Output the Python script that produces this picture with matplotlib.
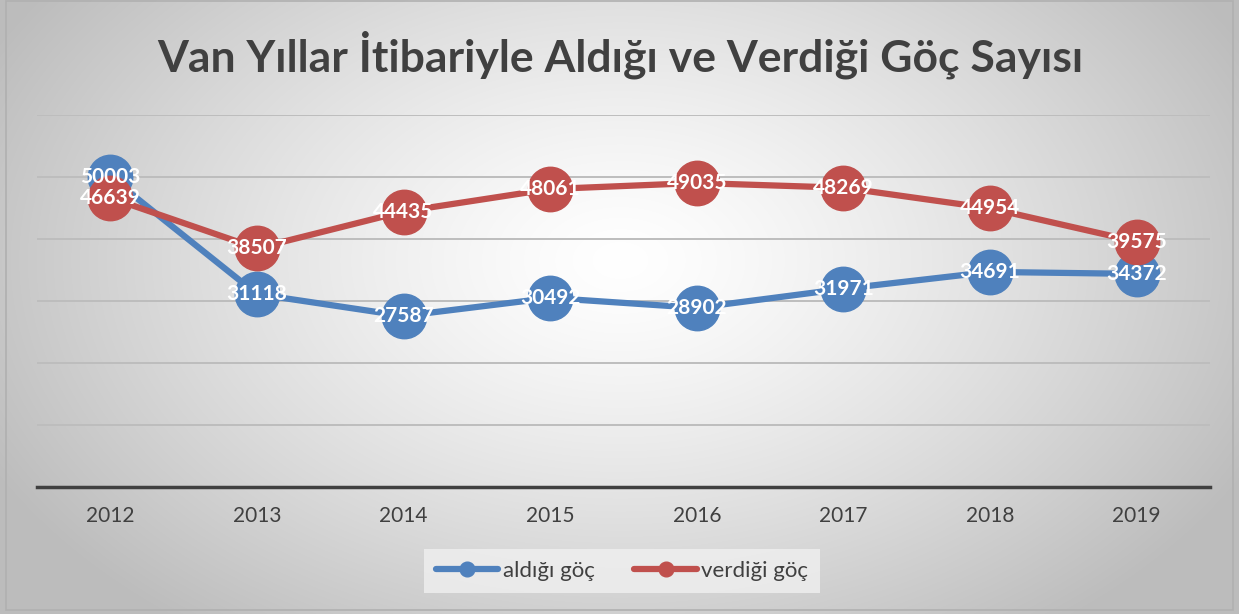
import numpy as np
import matplotlib.pyplot as plt
from matplotlib.patches import Rectangle

years = ['2012', '2013', '2014', '2015', '2016', '2017', '2018', '2019']
aldigi = [50003, 31118, 27587, 30492, 28902, 31971, 34691, 34372]
verdigi = [46639, 38507, 44435, 48061, 49035, 48269, 44954, 39575]

plt.rcParams['font.family'] = ['Lato', 'DejaVu Sans']

W, H = 1239, 614
fig = plt.figure(figsize=(W / 100, H / 100), dpi=100)

# arka plan: radyal gradyan
bg = fig.add_axes([0, 0, 1, 1])
yy, xx = np.mgrid[0:H, 0:W]
r = np.sqrt(((xx - 620) / 640.0) ** 2 + ((yy - 260) / 420.0) ** 2)
r = np.clip(r / 1.1, 0, 1)
g = 1.0 - 0.26 * r ** 1.3
img = np.dstack([g, g, g])
bg.imshow(img, extent=[0, W, H, 0], aspect='auto')
bg.add_patch(Rectangle((6, 1), W - 12, H - 5, fill=False, edgecolor='#b0b0b0', lw=1.2))
bg.set_xlim(0, W)
bg.set_ylim(H, 0)
bg.axis('off')

ax = fig.add_axes([37 / W, (H - 487) / H, (1210 - 37) / W, (487 - 115) / H])
ax.patch.set_alpha(0)
x = np.arange(len(years))

ax.plot(x, aldigi, color='#4F81BD', lw=4.5, marker='o', ms=32, zorder=3,
        solid_capstyle='round', label='aldığı göç')
ax.plot(x, verdigi, color='#C0504D', lw=4.5, marker='o', ms=32, zorder=4,
        solid_capstyle='round', label='verdiği göç')

for i in range(len(years)):
    ax.text(x[i], aldigi[i], str(aldigi[i]), color='white', fontsize=15,
            fontweight='bold', ha='center', va='center', zorder=6)
    ax.text(x[i], verdigi[i], str(verdigi[i]), color='white', fontsize=15,
            fontweight='bold', ha='center', va='center', zorder=6)

ax.set_xlim(-0.5, 7.5)
ax.set_ylim(0, 60000)
ax.set_yticks(np.arange(10000, 60001, 10000))
ax.yaxis.grid(True, color='#bdbdbd', lw=1.4)
ax.set_axisbelow(True)
ax.tick_params(axis='y', left=False, labelleft=False)
ax.set_xticks(x)
ax.set_xticklabels(years, fontsize=15, color='#404040')
ax.tick_params(axis='x', length=0, pad=14)
for s in ['top', 'right', 'left']:
    ax.spines[s].set_visible(False)
ax.spines['bottom'].set_color('#404040')
ax.spines['bottom'].set_linewidth(2.5)

leg = fig.legend(loc='center', bbox_to_anchor=(622 / W, 1 - 571 / H), ncol=2,
                 fontsize=16, frameon=True, fancybox=False, markerscale=0.33,
                 handlelength=2.8, columnspacing=1.8, handletextpad=0.2,
                 borderpad=0.55)
leg.get_frame().set_facecolor('#f0f0f0')
leg.get_frame().set_edgecolor('none')
for t in leg.get_texts():
    t.set_color('#404040')

fig.text(620 / W, 1 - 55 / H, 'Van Yıllar İtibariyle Aldığı ve Verdiği Göç Sayısı',
         ha='center', va='center', fontsize=32, fontweight='bold', color='#404040')

fig.savefig('out.png', dpi=100)
